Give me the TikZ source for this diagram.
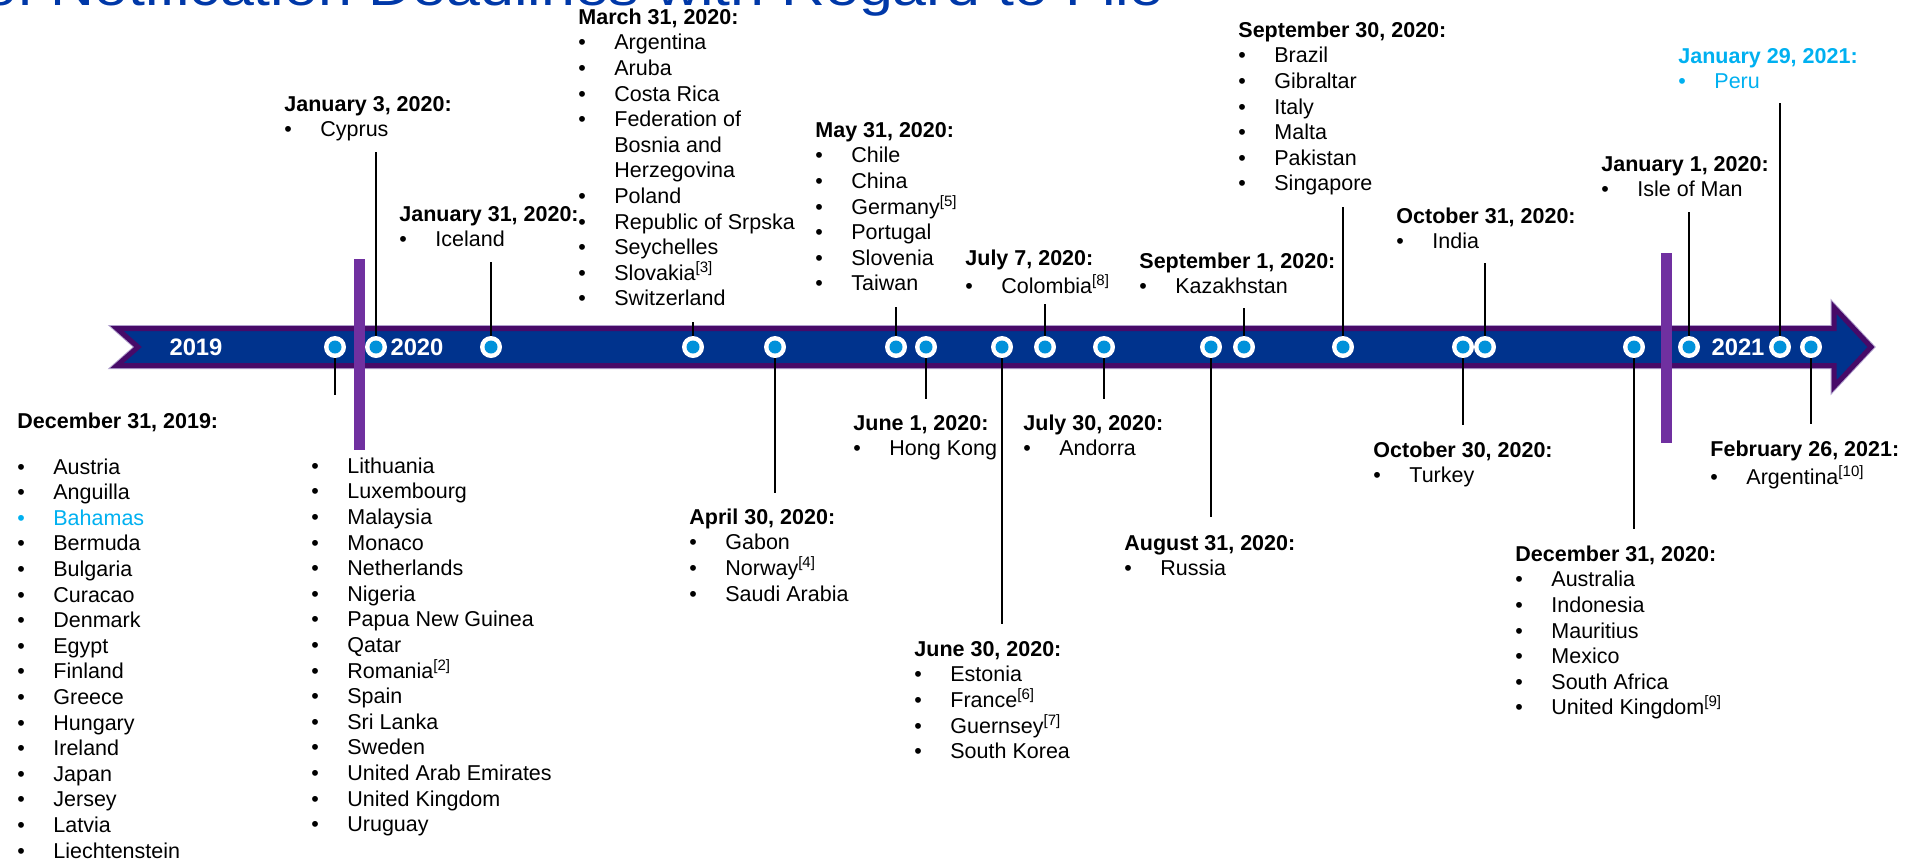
\documentclass[tikz,border=0pt]{standalone}
\usepackage{fontspec}
\setmainfont{Liberation Sans}
\usepackage{graphicx}
\usetikzlibrary{positioning}

\definecolor{kpmgblue}{RGB}{0,51,141}
\definecolor{bandpurple}{RGB}{71,10,104}
\definecolor{bandedge}{RGB}{176,160,204}
\definecolor{barviolet}{RGB}{112,48,160}
\definecolor{dotblue}{RGB}{0,145,218}
\definecolor{hilite}{RGB}{0,176,240}
\definecolor{headblue}{RGB}{0,56,168}

\newcommand{\bullit}{\makebox[18pt][l]{\textbullet}}
\newcommand{\indit}{\hspace*{18pt}}
\newcommand{\fnref}[1]{\textsuperscript{[#1]}}

\begin{document}
\begin{tikzpicture}[x=0.5pt, y=-0.5pt,
    event/.style={anchor=north west, align=left, inner sep=0pt, font=\fontsize{10.75}{12.8}\selectfont},
    evdot/.style={circle, fill=white, minimum size=11pt, inner sep=0pt,
      path picture={\fill[dotblue] (path picture bounding box.center) circle (3.25pt);}},
    yearlabel/.style={text=white, inner sep=0pt, font=\bfseries\fontsize{11.9}{14}\selectfont},
    leader/.style={draw=black, line width=0.75pt}]
    \useasboundingbox (0,0) rectangle (1906,859);

    % Heading (cut off at the top)
    \node[anchor=base west, inner sep=0pt, text=headblue, font=\fontsize{26}{30}\selectfont] (heading) at (-17,5)
        {\scalebox{1.17}[1]{of Notification Deadlines with Regard to File}};

    % Timeline band
    \filldraw[fill=kpmgblue, draw=bandpurple, line width=2.5pt, line join=miter,
        preaction={draw=bandedge, line width=3.5pt}]
        (117,328.5) -- (1834,328.5) -- (1834,307.5) -- (1871,347) -- (1834,386.5)
        -- (1834,365.5) -- (117,365.5) -- (138,347) -- cycle;

    % Year dividers
    \fill[barviolet] (354,259) rectangle (365,450);
    \fill[barviolet] (1661,253) rectangle (1672,443);

    % Years
    \node[yearlabel] (y2019) at (196,347) {2019};
    \node[yearlabel] (y2020) at (417,347) {2020};
    \node[yearlabel] (y2021) at (1738,347) {2021};

    % Dots on the band
    \node[evdot] (d1) at (335,347) {};
    \node[evdot] (d2) at (376,347) {};
    \node[evdot] (d3) at (491,347) {};
    \node[evdot] (d4) at (693,347) {};
    \node[evdot] (d5) at (775,347) {};
    \node[evdot] (d6) at (896,347) {};
    \node[evdot] (d7) at (926,347) {};
    \node[evdot] (d8) at (1002,347) {};
    \node[evdot] (d9) at (1045,347) {};
    \node[evdot] (d10) at (1104,347) {};
    \node[evdot] (d11) at (1211,347) {};
    \node[evdot] (d12) at (1244,347) {};
    \node[evdot] (d13) at (1343,347) {};
    \node[evdot] (d14) at (1463,347) {};
    \node[evdot] (d15) at (1485,347) {};
    \node[evdot] (d16) at (1634,347) {};
    \node[evdot] (d17) at (1689,347) {};
    \node[evdot] (d18) at (1780,347) {};
    \node[evdot] (d19) at (1811,347) {};

    % Ends of the leader lines
    \coordinate (e1) at (335,395);
    \coordinate (e2) at (376,152);
    \coordinate (e3) at (491,262);
    \coordinate (e4) at (693,322);
    \coordinate (e5) at (775,493);
    \coordinate (e6) at (896,307);
    \coordinate (e7) at (926,399);
    \coordinate (e8) at (1002,624);
    \coordinate (e9) at (1045,304);
    \coordinate (e10) at (1104,399);
    \coordinate (e11) at (1211,517);
    \coordinate (e12) at (1244,308);
    \coordinate (e13) at (1343,207);
    \coordinate (e14) at (1463,425);
    \coordinate (e15) at (1485,263);
    \coordinate (e16) at (1634,529);
    \coordinate (e17) at (1689,212);
    \coordinate (e18) at (1780,103);
    \coordinate (e19) at (1811,424);

    % Leader lines
    \draw[leader] (d1) -- (e1);
    \draw[leader] (d2) -- (e2);
    \draw[leader] (d3) -- (e3);
    \draw[leader] (d4) -- (e4);
    \draw[leader] (d5) -- (e5);
    \draw[leader] (d6) -- (e6);
    \draw[leader] (d7) -- (e7);
    \draw[leader] (d8) -- (e8);
    \draw[leader] (d9) -- (e9);
    \draw[leader] (d10) -- (e10);
    \draw[leader] (d11) -- (e11);
    \draw[leader] (d12) -- (e12);
    \draw[leader] (d13) -- (e13);
    \draw[leader] (d14) -- (e14);
    \draw[leader] (d15) -- (e15);
    \draw[leader] (d16) -- (e16);
    \draw[leader] (d17) -- (e17);
    \draw[leader] (d18) -- (e18);
    \draw[leader] (d19) -- (e19);

    % Deadlines
    \node[event] (t1) at (17,410) {\strut\textbf{December 31, 2019:}};
    \node[event, below right=9.7pt and 0pt of t1.south west] (l1a) {\strut\bullit Austria\\ \bullit Anguilla\\
        {\color{hilite}\bullit Bahamas}\\ \bullit Bermuda\\ \bullit Bulgaria\\ \bullit Curacao\\ \bullit Denmark\\
        \bullit Egypt\\ \bullit Finland\\ \bullit Greece\\ \bullit Hungary\\ \bullit Ireland\\ \bullit Japan\\
        \bullit Jersey\\ \bullit Latvia\\ \bullit Liechtenstein};
    \node[event] (l1b) at (311,455) {\strut\bullit Lithuania\\ \bullit Luxembourg\\ \bullit Malaysia\\ \bullit Monaco\\
        \bullit Netherlands\\ \bullit Nigeria\\ \bullit Papua New Guinea\\ \bullit Qatar\\ \bullit Romania\fnref{2}\\
        \bullit Spain\\ \bullit Sri Lanka\\ \bullit Sweden\\ \bullit United Arab Emirates\\ \bullit United Kingdom\\
        \bullit Uruguay};
    \node[event] (l2) at (284,93) {\strut\textbf{January 3, 2020:}\\ \bullit Cyprus};
    \node[event] (l3) at (399,203) {\strut\textbf{January 31, 2020:}\\ \bullit Iceland};
    \node[event] (l4) at (578,6) {\strut\textbf{March 31, 2020:}\\ \bullit Argentina\\ \bullit Aruba\\ \bullit Costa Rica\\
        \bullit Federation of\\ \indit Bosnia and\\ \indit Herzegovina\\ \bullit Poland\\ \bullit Republic of Srpska\\
        \bullit Seychelles\\ \bullit Slovakia\fnref{3}\\ \bullit Switzerland};
    \node[event] (l5) at (689,506) {\strut\textbf{April 30, 2020:}\\ \bullit Gabon\\ \bullit Norway\fnref{4}\\ \bullit Saudi Arabia};
    \node[event] (l6) at (815,119) {\strut\textbf{May 31, 2020:}\\ \bullit Chile\\ \bullit China\\ \bullit Germany\fnref{5}\\
        \bullit Portugal\\ \bullit Slovenia\\ \bullit Taiwan};
    \node[event] (l7) at (853,412) {\strut\textbf{June 1, 2020:}\\ \bullit Hong Kong};
    \node[event] (l8) at (914,638) {\strut\textbf{June 30, 2020:}\\ \bullit Estonia\\ \bullit France\fnref{6}\\
        \bullit Guernsey\fnref{7}\\ \bullit South Korea};
    \node[event] (l9) at (965,247) {\strut\textbf{July 7, 2020:}\\ \bullit Colombia\fnref{8}};
    \node[event] (l10) at (1023,412) {\strut\textbf{July 30, 2020:}\\ \bullit Andorra};
    \node[event] (l11) at (1124,532) {\strut\textbf{August 31, 2020:}\\ \bullit Russia};
    \node[event] (l12) at (1139,250) {\strut\textbf{September 1, 2020:}\\ \bullit Kazakhstan};
    \node[event] (l13) at (1238,19) {\strut\textbf{September 30, 2020:}\\ \bullit Brazil\\ \bullit Gibraltar\\ \bullit Italy\\
        \bullit Malta\\ \bullit Pakistan\\ \bullit Singapore};
    \node[event] (l14) at (1373,439) {\strut\textbf{October 30, 2020:}\\ \bullit Turkey};
    \node[event] (l15) at (1396,205) {\strut\textbf{October 31, 2020:}\\ \bullit India};
    \node[event] (l16) at (1515,543) {\strut\textbf{December 31, 2020:}\\ \bullit Australia\\ \bullit Indonesia\\
        \bullit Mauritius\\ \bullit Mexico\\ \bullit South Africa\\ \bullit United Kingdom\fnref{9}};
    \node[event] (l17) at (1601,153) {\strut\textbf{January 1, 2020:}\\ \bullit Isle of Man};
    \node[event, text=hilite] (l18) at (1678,45) {\strut\textbf{January 29, 2021:}\\ \bullit Peru};
    \node[event] (l19) at (1710,438) {\strut\textbf{February 26, 2021:}\\ \bullit Argentina\fnref{10}};
\end{tikzpicture}
\end{document}
